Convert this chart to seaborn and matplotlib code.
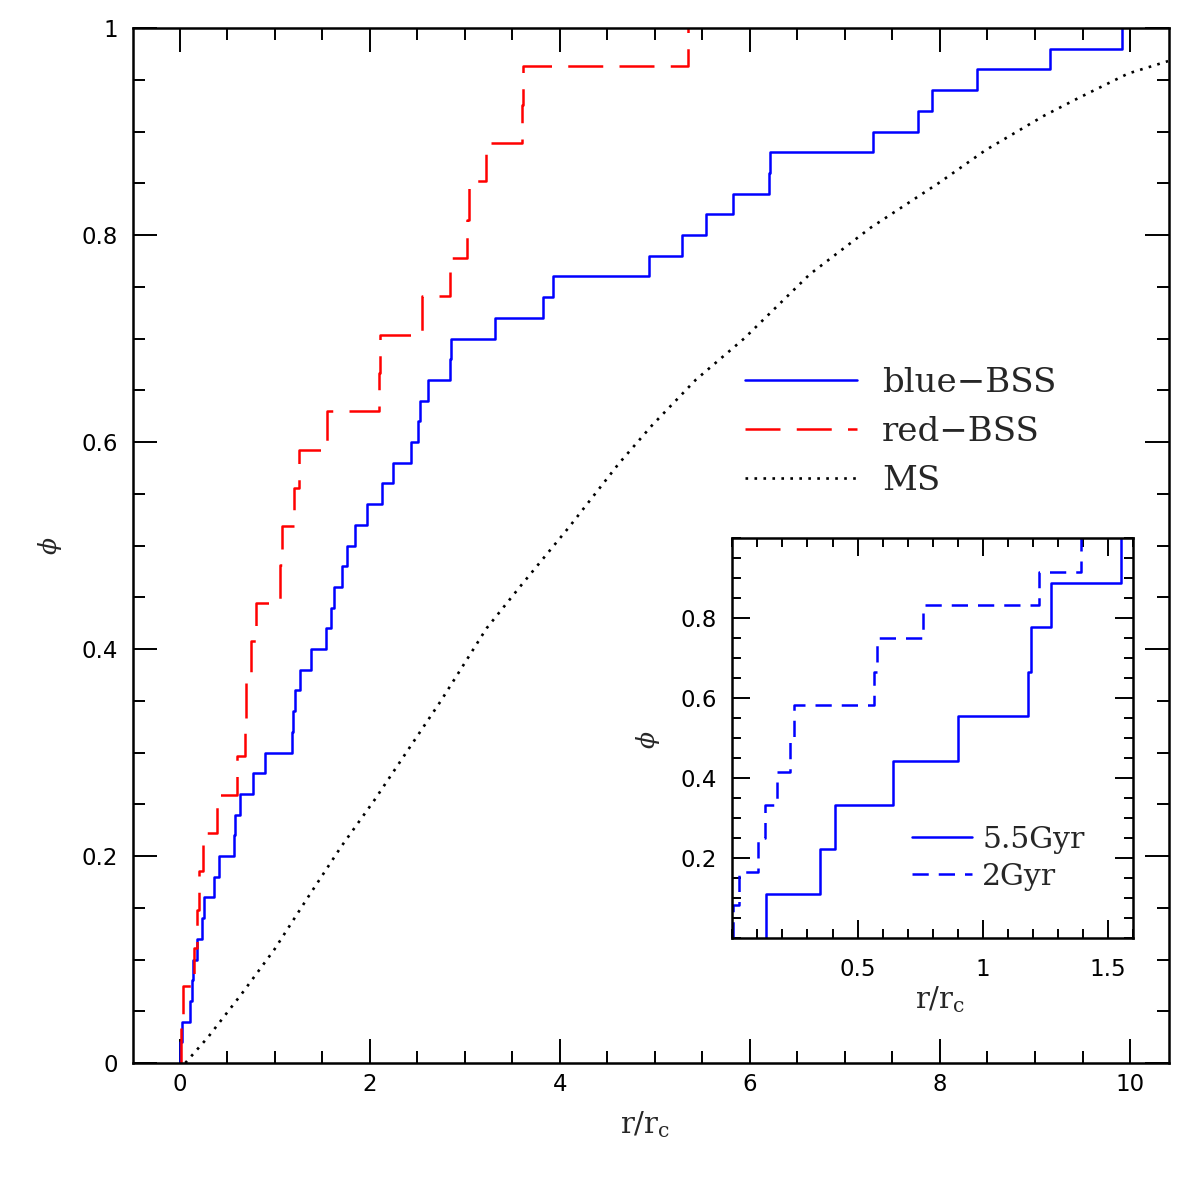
import matplotlib
matplotlib.use('Agg')
import matplotlib.pyplot as plt
from matplotlib.ticker import MultipleLocator
import seaborn as sns

blue_bss_r = [0.00, 0.03, 0.105, 0.13, 0.14, 0.18, 0.24, 0.26, 0.36, 0.41,
              0.57, 0.58, 0.64, 0.77, 0.90, 1.18, 1.19, 1.21, 1.27, 1.38,
              1.54, 1.59, 1.62, 1.71, 1.76, 1.85, 1.97, 2.13, 2.25, 2.44,
              2.51, 2.53, 2.61, 2.85, 2.86, 3.32, 3.82, 3.93, 4.94, 5.29,
              5.54, 5.82, 6.20, 6.21, 7.30, 7.77, 7.92, 8.39, 9.16, 9.92]
red_bss_r = [0.02, 0.04, 0.15, 0.18, 0.20, 0.25, 0.39, 0.60, 0.69, 0.70,
             0.75, 0.80, 1.06, 1.08, 1.20, 1.26, 1.55, 2.10, 2.11, 2.55,
             2.85, 3.02, 3.04, 3.22, 3.60, 3.61, 5.35]

# main sequence cumulative curve
ms_r = [0.06, 0.30, 0.655, 1.00, 1.35, 1.70, 2.05, 2.40, 2.75, 3.23, 3.58, 4.10,
        4.62, 4.97, 5.43, 5.94, 6.63, 7.27, 8.00, 8.48, 9.09, 9.45, 9.98, 10.4]
ms_phi = [0.0, 0.025, 0.067, 0.11, 0.16, 0.209, 0.254, 0.302, 0.35, 0.42, 0.46, 0.518,
          0.579, 0.616, 0.66, 0.70, 0.762, 0.807, 0.851, 0.882, 0.915, 0.932, 0.956, 0.968]

# inset: blue-BSS at two ages
gyr55_r = [0.133, 0.35, 0.41, 0.64, 0.90, 1.18, 1.19, 1.27, 1.55]
gyr2_r = [0.004, 0.028, 0.104, 0.130, 0.177, 0.230, 0.247, 0.566, 0.576,
          0.759, 1.225, 1.391]

main_xticks = [0, 2, 4, 6, 8, 10]
main_xticklabels = ['0', '2', '4', '6', '8', '10']
main_yticks = [0, 0.2, 0.4, 0.6, 0.8, 1]
main_yticklabels = ['0', '0.2', '0.4', '0.6', '0.8', '1']
inset_xticks = [0.5, 1, 1.5]
inset_xticklabels = ['0.5', '1', '1.5']
inset_yticks = [0.2, 0.4, 0.6, 0.8]
inset_yticklabels = ['0.2', '0.4', '0.6', '0.8']

sns.set_style('ticks')
plt.rcParams['font.family'] = ['DejaVu Sans']
plt.rcParams['mathtext.fontset'] = 'dejavuserif'

W = 1195.0
fig = plt.figure(figsize=(11.95, 11.95), dpi=100)
fig.patch.set_facecolor('white')


def style(ax, major, minor, xpad, ypad):
    ax.tick_params(which='both', direction='in', top=True, right=True,
                   width=1.4, labelsize=16.5, colors='black')
    ax.tick_params(which='major', length=major)
    ax.tick_params(which='minor', length=minor)
    ax.tick_params(axis='x', pad=xpad)
    ax.tick_params(axis='y', pad=ypad)
    for s in ax.spines.values():
        s.set_linewidth(1.8)
        s.set_color('black')


# main panel
ax = fig.add_axes([133 / W, 1 - 1063 / W, 1036 / W, 1035 / W])
sns.ecdfplot(x=blue_bss_r, ax=ax, color='#0000ff', lw=1.8, label='blue\u2212BSS')
sns.ecdfplot(x=red_bss_r, ax=ax, color='#ff0000', lw=1.8,
             linestyle=(0, (14, 6.5)), label='red\u2212BSS')
sns.lineplot(x=ms_r, y=ms_phi, ax=ax, color='black', lw=1.9,
             linestyle=(0, (1, 2.4)), label='MS')
ax.set_xlim(-0.49, 10.41)
ax.set_ylim(0, 1)
ax.set_xticks(main_xticks, main_xticklabels)
ax.set_yticks(main_yticks, main_yticklabels)
ax.xaxis.set_minor_locator(MultipleLocator(0.5))
ax.yaxis.set_minor_locator(MultipleLocator(0.05))
style(ax, 17, 8.6, 7, 11)
ax.set_xlabel(r'$\mathrm{r/r_c}$', fontsize=21)
ax.set_ylabel(r'$\phi$', fontsize=18)
ax.xaxis.set_label_coords(0.494, -0.045)
ax.yaxis.set_label_coords(-0.067, 0.50)
ax.legend(loc='center left', bbox_to_anchor=(0.5907, 0.6097), frameon=False,
          prop={'family': 'DejaVu Serif', 'size': 24.5}, handlelength=3.3,
          handletextpad=0.72, labelspacing=0.5, borderpad=0, borderaxespad=0)

# inset
axin = fig.add_axes([732.3 / W, 1 - 938.3 / W, 401 / W, 400 / W])
axin.set_facecolor('white')
sns.ecdfplot(x=gyr55_r, ax=axin, color='#0000ff', lw=1.8, label='5.5Gyr')
sns.ecdfplot(x=gyr2_r, ax=axin, color='#0000ff', lw=1.8,
             linestyle=(0, (6.5, 4)), label='2Gyr')
axin.set_xlim(0, 1.6)
axin.set_ylim(0, 1)
axin.set_xticks(inset_xticks, inset_xticklabels)
axin.set_yticks(inset_yticks, inset_yticklabels)
axin.xaxis.set_minor_locator(MultipleLocator(0.1))
axin.yaxis.set_minor_locator(MultipleLocator(0.05))
style(axin, 13, 6.5, 14, 11)
axin.set_xlabel(r'$\mathrm{r/r_c}$', fontsize=21)
axin.set_ylabel(r'$\phi$', fontsize=18)
axin.xaxis.set_label_coords(0.518, -0.115)
axin.yaxis.set_label_coords(-0.175, 0.496)
axin.legend(loc='center left', bbox_to_anchor=(0.448, 0.2003), frameon=False,
            prop={'family': 'DejaVu Serif', 'size': 21.5}, handlelength=2.0,
            handletextpad=0.35, labelspacing=0.3, borderpad=0, borderaxespad=0)

fig.savefig('out.png', dpi=100, facecolor='white')
